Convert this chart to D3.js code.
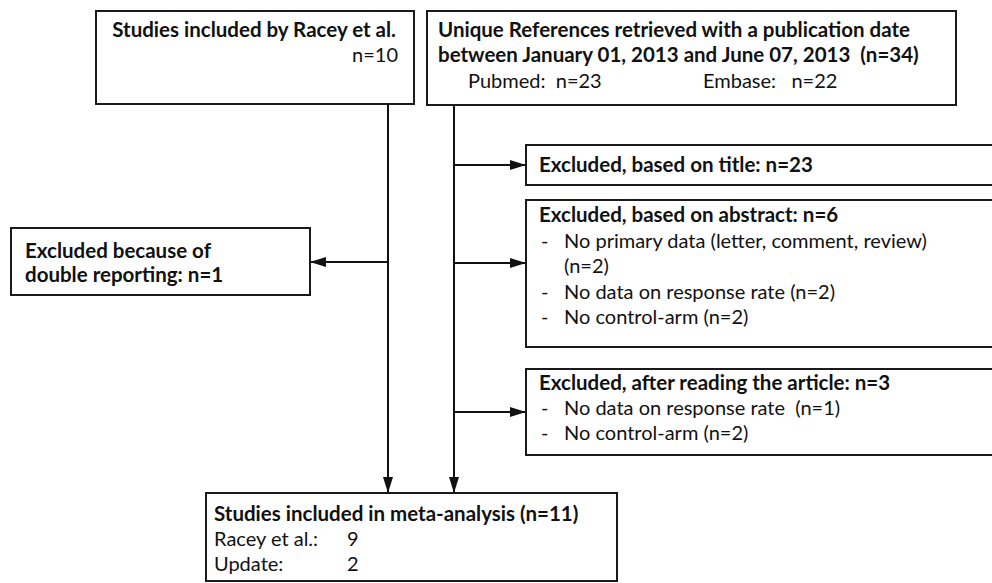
<!DOCTYPE html>
<html>
<head>
<meta charset="utf-8">
<script src="https://cdn.jsdelivr.net/npm/d3@7"></script>
<style>
  body { margin: 0; background: #fff; }
  svg text { font-family: Lato, "Open Sans", sans-serif; fill: #111; white-space: pre; }
  .b { font-weight: bold; }
</style>
</head>
<body>
<svg id="chart" width="992" height="583"></svg>
<script>
// flow counts
const sourceTitles = ["Studies included by Racey et al.", "Unique References retrieved with a publication date"];
const sourceCounts = [10, 34];
const dateRange = "between January 01, 2013 and June 07, 2013";
const databases = ["Pubmed", "Embase"];
const databaseCounts = [23, 22];
const duplicateCount = 1;
const exclusionTitles = ["Excluded, based on title", "Excluded, based on abstract", "Excluded, after reading the article"];
const exclusionCounts = [23, 6, 3];
const abstractReasons = ["No primary data (letter, comment, review)", "No data on response rate", "No control-arm"];
const abstractCounts = [2, 2, 2];
const articleReasons = ["No data on response rate ", "No control-arm"];
const articleCounts = [1, 2];
const includedSources = ["Racey et al.:", "Update:"];
const includedCounts = [9, 2];
const includedTotal = 11;

const svg = d3.select("#chart");
const fsBold = 20.5;
const fsReg = 20;
const lh = 25.5;

svg.append("defs").append("marker")
    .attr("id", "arrow")
    .attr("viewBox", "0 0 16 10")
    .attr("refX", 16)
    .attr("refY", 5)
    .attr("markerWidth", 16)
    .attr("markerHeight", 10)
    .attr("markerUnits", "userSpaceOnUse")
    .attr("orient", "auto")
    .append("path")
    .attr("d", "M0,0L16,5L0,10Z")
    .attr("fill", "#111");

// boxes: x0, y0, x1, y1
const boxes = {
    racey:   [96, 11, 414, 104],
    refs:    [427, 11, 956, 105],
    title:   [526, 145, 1000, 185],
    abstr:   [526, 200, 1000, 347],
    double:  [11, 228, 310, 295],
    article: [526, 369, 1000, 455],
    final:   [206, 493, 617, 581]
};

svg.append("g").selectAll("rect")
    .data(Object.values(boxes))
    .join("rect")
    .attr("x", d => d[0])
    .attr("y", d => d[1])
    .attr("width", d => d[2] - d[0])
    .attr("height", d => d[3] - d[1])
    .attr("fill", "none")
    .attr("stroke", "#1a1a1a")
    .attr("stroke-width", 2);

const leftX = 388, rightX = 454;
const lines = [
    [leftX, boxes.racey[3], leftX, boxes.final[1]],
    [rightX, boxes.refs[3], rightX, boxes.final[1]],
    [rightX, 165, boxes.title[0], 165],
    [rightX, 263, boxes.abstr[0], 263],
    [rightX, 412, boxes.article[0], 412],
    [leftX, 262, boxes.double[2], 262]
];

svg.append("g").selectAll("line")
    .data(lines)
    .join("line")
    .attr("x1", d => d[0]).attr("y1", d => d[1])
    .attr("x2", d => d[2]).attr("y2", d => d[3])
    .attr("stroke", "#111")
    .attr("stroke-width", 2)
    .attr("marker-end", "url(#arrow)");

function txt(x, y, s, bold, anchor) {
    svg.append("text")
        .attr("x", x).attr("y", y)
        .attr("font-size", bold ? fsBold : fsReg)
        .attr("class", bold ? "b" : null)
        .attr("text-anchor", anchor || "start")
        .text(s);
}

// Racey box
txt(396, 37, sourceTitles[0], true, "end");
txt(398, 62, `n=${sourceCounts[0]}`, false, "end");

// references box
txt(438, 37, sourceTitles[1], true);
txt(438, 62, `${dateRange}  (n=${sourceCounts[1]})`, true);
txt(468, 88, `${databases[0]}:  n=${databaseCounts[0]}`, false);
txt(703, 88, `${databases[1]}:   n=${databaseCounts[1]}`, false);

// exclusions
txt(539, 172, `${exclusionTitles[0]}: n=${exclusionCounts[0]}`, true);

const abY = 222;
txt(539, abY, `${exclusionTitles[1]}: n=${exclusionCounts[1]}`, true);
txt(541, abY + lh, "-");
txt(564, abY + lh, abstractReasons[0]);
txt(564, abY + 2 * lh, `(n=${abstractCounts[0]})`);
abstractReasons.slice(1).forEach((r, i) => {
    txt(541, abY + (3 + i) * lh, "-");
    txt(564, abY + (3 + i) * lh, `${r} (n=${abstractCounts[i + 1]})`);
});

const arY = 390;
txt(539, arY, `${exclusionTitles[2]}: n=${exclusionCounts[2]}`, true);
articleReasons.forEach((r, i) => {
    txt(541, arY + (1 + i) * 25, "-");
    txt(564, arY + (1 + i) * 25, `${r} (n=${articleCounts[i]})`);
});

// double reporting
txt(25, 258, "Excluded because of", true);
txt(25, 282, `double reporting: n=${duplicateCount}`, true);

// final
txt(214, 521, `Studies included in meta-analysis (n=${includedTotal})`, true);
includedSources.forEach((s, i) => {
    txt(214, 546 + i * 25, s);
    txt(347, 546 + i * 25, includedCounts[i]);
});
</script>
</body>
</html>
